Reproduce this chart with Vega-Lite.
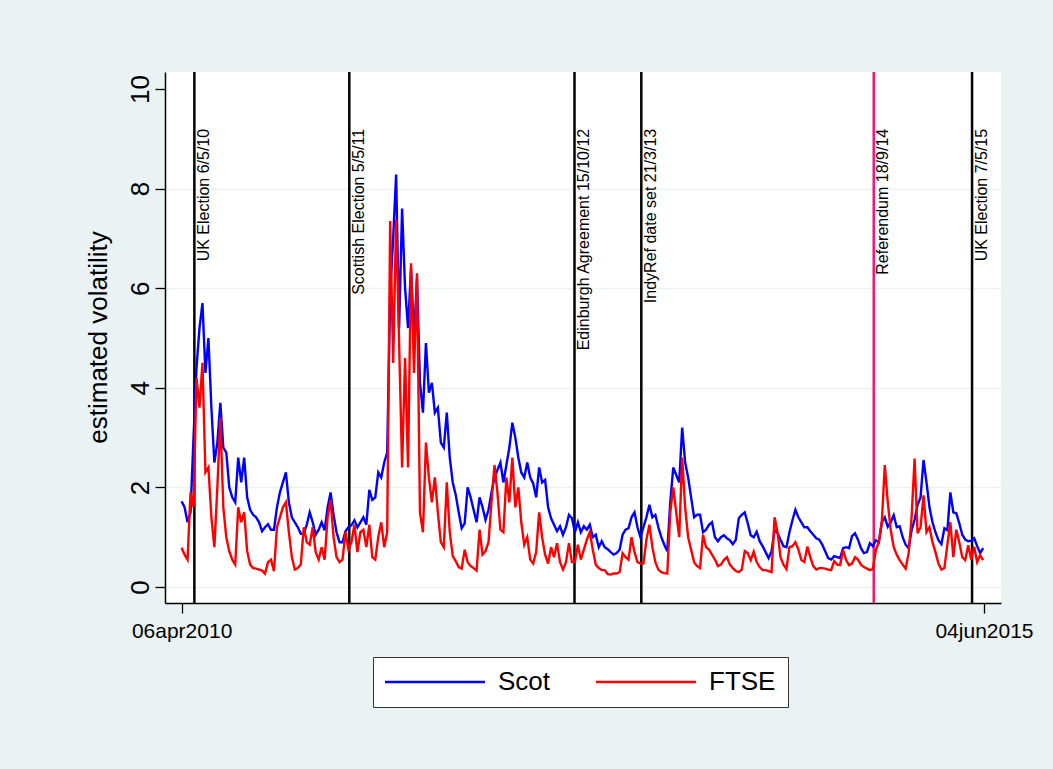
{
  "$schema": "https://vega.github.io/schema/vega-lite/v6.json",
  "width": 836,
  "height": 531,
  "autosize": {"type": "none"},
  "padding": {"left": 165, "top": 72, "right": 52, "bottom": 166},
  "background": "#EAF2F3",
  "config": {
    "font": "Liberation Sans",
    "view": {"fill": "white", "stroke": null}
  },
  "datasets": {
    "vol": [
      {"date": "2010-04-06", "Scot": 1.72, "FTSE": 0.79},
      {"date": "2010-04-13", "Scot": 1.6, "FTSE": 0.65},
      {"date": "2010-04-20", "Scot": 1.3, "FTSE": 0.55},
      {"date": "2010-04-27", "Scot": 1.5, "FTSE": 1.9},
      {"date": "2010-05-04", "Scot": 3.0, "FTSE": 1.6},
      {"date": "2010-05-11", "Scot": 4.4, "FTSE": 4.2},
      {"date": "2010-05-18", "Scot": 5.2, "FTSE": 3.6},
      {"date": "2010-05-25", "Scot": 5.7, "FTSE": 4.5},
      {"date": "2010-06-01", "Scot": 4.3, "FTSE": 2.3},
      {"date": "2010-06-08", "Scot": 5.0, "FTSE": 2.4},
      {"date": "2010-06-15", "Scot": 3.6, "FTSE": 1.4},
      {"date": "2010-06-22", "Scot": 2.5, "FTSE": 0.8},
      {"date": "2010-06-29", "Scot": 2.9, "FTSE": 2.0},
      {"date": "2010-07-06", "Scot": 3.7, "FTSE": 3.4},
      {"date": "2010-07-13", "Scot": 2.8, "FTSE": 1.6},
      {"date": "2010-07-20", "Scot": 2.7, "FTSE": 1.0},
      {"date": "2010-07-27", "Scot": 2.0, "FTSE": 0.72},
      {"date": "2010-08-03", "Scot": 1.8, "FTSE": 0.55},
      {"date": "2010-08-10", "Scot": 1.7, "FTSE": 0.45},
      {"date": "2010-08-17", "Scot": 2.6, "FTSE": 1.6},
      {"date": "2010-08-24", "Scot": 2.1, "FTSE": 1.3},
      {"date": "2010-08-31", "Scot": 2.6, "FTSE": 1.5},
      {"date": "2010-09-07", "Scot": 1.8, "FTSE": 0.72},
      {"date": "2010-09-14", "Scot": 1.55, "FTSE": 0.45},
      {"date": "2010-09-21", "Scot": 1.45, "FTSE": 0.38},
      {"date": "2010-09-28", "Scot": 1.4, "FTSE": 0.37},
      {"date": "2010-10-05", "Scot": 1.3, "FTSE": 0.35},
      {"date": "2010-10-12", "Scot": 1.12, "FTSE": 0.33},
      {"date": "2010-10-19", "Scot": 1.2, "FTSE": 0.27},
      {"date": "2010-10-26", "Scot": 1.26, "FTSE": 0.5},
      {"date": "2010-11-02", "Scot": 1.15, "FTSE": 0.55},
      {"date": "2010-11-09", "Scot": 1.15, "FTSE": 0.32},
      {"date": "2010-11-16", "Scot": 1.6, "FTSE": 1.2},
      {"date": "2010-11-23", "Scot": 1.9, "FTSE": 1.4},
      {"date": "2010-11-30", "Scot": 2.1, "FTSE": 1.6},
      {"date": "2010-12-07", "Scot": 2.3, "FTSE": 1.7},
      {"date": "2010-12-14", "Scot": 1.7, "FTSE": 1.1},
      {"date": "2010-12-21", "Scot": 1.4, "FTSE": 0.6},
      {"date": "2010-12-28", "Scot": 1.3, "FTSE": 0.35},
      {"date": "2011-01-04", "Scot": 1.2, "FTSE": 0.38},
      {"date": "2011-01-11", "Scot": 1.07, "FTSE": 0.45},
      {"date": "2011-01-18", "Scot": 1.07, "FTSE": 1.2},
      {"date": "2011-01-25", "Scot": 1.25, "FTSE": 0.9},
      {"date": "2011-02-01", "Scot": 1.5, "FTSE": 0.85},
      {"date": "2011-02-08", "Scot": 1.3, "FTSE": 1.2},
      {"date": "2011-02-15", "Scot": 1.05, "FTSE": 0.7},
      {"date": "2011-02-22", "Scot": 1.15, "FTSE": 0.55},
      {"date": "2011-03-01", "Scot": 1.3, "FTSE": 0.8},
      {"date": "2011-03-08", "Scot": 1.14, "FTSE": 0.55},
      {"date": "2011-03-15", "Scot": 1.6, "FTSE": 1.4},
      {"date": "2011-03-22", "Scot": 1.9, "FTSE": 1.75},
      {"date": "2011-03-29", "Scot": 1.45, "FTSE": 1.0},
      {"date": "2011-04-05", "Scot": 1.1, "FTSE": 0.6},
      {"date": "2011-04-12", "Scot": 0.9, "FTSE": 0.5},
      {"date": "2011-04-19", "Scot": 0.9, "FTSE": 0.55},
      {"date": "2011-04-26", "Scot": 1.12, "FTSE": 1.1},
      {"date": "2011-05-03", "Scot": 1.2, "FTSE": 0.75},
      {"date": "2011-05-10", "Scot": 1.24, "FTSE": 0.9},
      {"date": "2011-05-17", "Scot": 1.34, "FTSE": 1.25},
      {"date": "2011-05-24", "Scot": 1.2, "FTSE": 0.7},
      {"date": "2011-05-31", "Scot": 1.3, "FTSE": 1.1},
      {"date": "2011-06-07", "Scot": 1.4, "FTSE": 1.15},
      {"date": "2011-06-14", "Scot": 1.25, "FTSE": 0.8},
      {"date": "2011-06-21", "Scot": 1.95, "FTSE": 1.25},
      {"date": "2011-06-28", "Scot": 1.75, "FTSE": 0.6},
      {"date": "2011-07-05", "Scot": 1.8, "FTSE": 0.55},
      {"date": "2011-07-12", "Scot": 2.3, "FTSE": 1.0},
      {"date": "2011-07-19", "Scot": 2.2, "FTSE": 1.3},
      {"date": "2011-07-26", "Scot": 2.5, "FTSE": 0.8},
      {"date": "2011-08-02", "Scot": 2.7, "FTSE": 1.1},
      {"date": "2011-08-09", "Scot": 5.9, "FTSE": 7.35},
      {"date": "2011-08-16", "Scot": 7.0, "FTSE": 4.5},
      {"date": "2011-08-23", "Scot": 8.28, "FTSE": 7.38},
      {"date": "2011-08-30", "Scot": 5.2, "FTSE": 4.9},
      {"date": "2011-09-06", "Scot": 7.6, "FTSE": 2.4},
      {"date": "2011-09-13", "Scot": 6.0, "FTSE": 4.6},
      {"date": "2011-09-20", "Scot": 5.2, "FTSE": 2.4},
      {"date": "2011-09-27", "Scot": 6.4, "FTSE": 6.5},
      {"date": "2011-10-04", "Scot": 5.0, "FTSE": 4.3},
      {"date": "2011-10-11", "Scot": 6.2, "FTSE": 6.3},
      {"date": "2011-10-18", "Scot": 4.1, "FTSE": 1.5},
      {"date": "2011-10-25", "Scot": 3.5, "FTSE": 1.1},
      {"date": "2011-11-01", "Scot": 4.9, "FTSE": 2.9},
      {"date": "2011-11-08", "Scot": 3.9, "FTSE": 2.2},
      {"date": "2011-11-15", "Scot": 4.1, "FTSE": 1.7},
      {"date": "2011-11-22", "Scot": 3.5, "FTSE": 2.2},
      {"date": "2011-11-29", "Scot": 3.6, "FTSE": 1.5},
      {"date": "2011-12-06", "Scot": 2.9, "FTSE": 0.9},
      {"date": "2011-12-13", "Scot": 2.8, "FTSE": 0.8},
      {"date": "2011-12-20", "Scot": 3.5, "FTSE": 2.1},
      {"date": "2011-12-27", "Scot": 2.6, "FTSE": 1.1},
      {"date": "2012-01-03", "Scot": 2.1, "FTSE": 0.62},
      {"date": "2012-01-10", "Scot": 1.85, "FTSE": 0.52},
      {"date": "2012-01-17", "Scot": 1.5, "FTSE": 0.4},
      {"date": "2012-01-24", "Scot": 1.18, "FTSE": 0.37},
      {"date": "2012-01-31", "Scot": 1.28, "FTSE": 0.75},
      {"date": "2012-02-07", "Scot": 2.0, "FTSE": 0.5},
      {"date": "2012-02-14", "Scot": 1.8, "FTSE": 0.42},
      {"date": "2012-02-21", "Scot": 1.55, "FTSE": 0.38},
      {"date": "2012-02-28", "Scot": 1.3, "FTSE": 0.33},
      {"date": "2012-03-06", "Scot": 1.8, "FTSE": 1.15},
      {"date": "2012-03-13", "Scot": 1.6, "FTSE": 0.65},
      {"date": "2012-03-20", "Scot": 1.35, "FTSE": 0.72},
      {"date": "2012-03-27", "Scot": 1.55, "FTSE": 0.9},
      {"date": "2012-04-03", "Scot": 1.9, "FTSE": 1.7},
      {"date": "2012-04-10", "Scot": 2.2, "FTSE": 2.45},
      {"date": "2012-04-17", "Scot": 2.35, "FTSE": 1.9},
      {"date": "2012-04-24", "Scot": 2.5, "FTSE": 1.15},
      {"date": "2012-05-01", "Scot": 2.1, "FTSE": 1.1},
      {"date": "2012-05-08", "Scot": 2.45, "FTSE": 2.2},
      {"date": "2012-05-15", "Scot": 2.8, "FTSE": 1.7},
      {"date": "2012-05-22", "Scot": 3.3, "FTSE": 2.6},
      {"date": "2012-05-29", "Scot": 3.0, "FTSE": 1.6},
      {"date": "2012-06-05", "Scot": 2.6, "FTSE": 2.0},
      {"date": "2012-06-12", "Scot": 2.3, "FTSE": 1.3},
      {"date": "2012-06-19", "Scot": 2.2, "FTSE": 0.85},
      {"date": "2012-06-26", "Scot": 2.5, "FTSE": 1.0},
      {"date": "2012-07-03", "Scot": 2.2, "FTSE": 0.55},
      {"date": "2012-07-10", "Scot": 2.08, "FTSE": 0.47},
      {"date": "2012-07-17", "Scot": 1.8, "FTSE": 0.7},
      {"date": "2012-07-24", "Scot": 2.4, "FTSE": 1.5},
      {"date": "2012-07-31", "Scot": 2.1, "FTSE": 1.0},
      {"date": "2012-08-07", "Scot": 2.15, "FTSE": 0.65},
      {"date": "2012-08-14", "Scot": 1.6, "FTSE": 0.47},
      {"date": "2012-08-21", "Scot": 1.38, "FTSE": 0.8},
      {"date": "2012-08-28", "Scot": 1.25, "FTSE": 0.6},
      {"date": "2012-09-04", "Scot": 1.12, "FTSE": 0.88},
      {"date": "2012-09-11", "Scot": 1.22, "FTSE": 0.5},
      {"date": "2012-09-18", "Scot": 1.05, "FTSE": 0.35},
      {"date": "2012-09-25", "Scot": 1.2, "FTSE": 0.5},
      {"date": "2012-10-02", "Scot": 1.45, "FTSE": 0.88},
      {"date": "2012-10-09", "Scot": 1.38, "FTSE": 0.5},
      {"date": "2012-10-16", "Scot": 1.1, "FTSE": 0.5},
      {"date": "2012-10-23", "Scot": 1.3, "FTSE": 0.85},
      {"date": "2012-10-30", "Scot": 1.1, "FTSE": 0.55},
      {"date": "2012-11-06", "Scot": 1.22, "FTSE": 0.75},
      {"date": "2012-11-13", "Scot": 1.15, "FTSE": 0.95},
      {"date": "2012-11-20", "Scot": 1.25, "FTSE": 1.1},
      {"date": "2012-11-27", "Scot": 1.0, "FTSE": 0.75},
      {"date": "2012-12-04", "Scot": 1.05, "FTSE": 0.45},
      {"date": "2012-12-11", "Scot": 0.8, "FTSE": 0.38},
      {"date": "2012-12-18", "Scot": 0.92, "FTSE": 0.34},
      {"date": "2012-12-25", "Scot": 0.8, "FTSE": 0.34},
      {"date": "2013-01-01", "Scot": 0.76, "FTSE": 0.26},
      {"date": "2013-01-08", "Scot": 0.7, "FTSE": 0.25},
      {"date": "2013-01-15", "Scot": 0.65, "FTSE": 0.27},
      {"date": "2013-01-22", "Scot": 0.68, "FTSE": 0.27},
      {"date": "2013-01-29", "Scot": 0.75, "FTSE": 0.3},
      {"date": "2013-02-05", "Scot": 1.05, "FTSE": 0.68},
      {"date": "2013-02-12", "Scot": 1.15, "FTSE": 0.6},
      {"date": "2013-02-19", "Scot": 1.18, "FTSE": 0.55},
      {"date": "2013-02-26", "Scot": 1.4, "FTSE": 1.0},
      {"date": "2013-03-05", "Scot": 1.5, "FTSE": 0.7},
      {"date": "2013-03-12", "Scot": 1.2, "FTSE": 0.5},
      {"date": "2013-03-19", "Scot": 1.0, "FTSE": 0.47},
      {"date": "2013-03-26", "Scot": 1.2, "FTSE": 0.47},
      {"date": "2013-04-02", "Scot": 1.4, "FTSE": 0.95},
      {"date": "2013-04-09", "Scot": 1.65, "FTSE": 1.25},
      {"date": "2013-04-16", "Scot": 1.4, "FTSE": 0.8},
      {"date": "2013-04-23", "Scot": 1.45, "FTSE": 0.5},
      {"date": "2013-04-30", "Scot": 1.2, "FTSE": 0.35},
      {"date": "2013-05-07", "Scot": 1.0, "FTSE": 0.3},
      {"date": "2013-05-14", "Scot": 0.85, "FTSE": 0.28},
      {"date": "2013-05-21", "Scot": 0.72, "FTSE": 0.27},
      {"date": "2013-05-28", "Scot": 1.7, "FTSE": 1.5},
      {"date": "2013-06-04", "Scot": 2.4, "FTSE": 2.0},
      {"date": "2013-06-11", "Scot": 2.25, "FTSE": 1.5},
      {"date": "2013-06-18", "Scot": 2.1, "FTSE": 1.0},
      {"date": "2013-06-25", "Scot": 3.2, "FTSE": 2.6},
      {"date": "2013-07-02", "Scot": 2.5, "FTSE": 1.6},
      {"date": "2013-07-09", "Scot": 2.2, "FTSE": 1.0},
      {"date": "2013-07-16", "Scot": 1.8, "FTSE": 0.75},
      {"date": "2013-07-23", "Scot": 1.4, "FTSE": 0.5},
      {"date": "2013-07-30", "Scot": 1.45, "FTSE": 0.42},
      {"date": "2013-08-06", "Scot": 1.45, "FTSE": 0.38},
      {"date": "2013-08-13", "Scot": 1.1, "FTSE": 1.05},
      {"date": "2013-08-20", "Scot": 1.15, "FTSE": 0.8},
      {"date": "2013-08-27", "Scot": 1.25, "FTSE": 0.75},
      {"date": "2013-09-03", "Scot": 1.3, "FTSE": 0.65},
      {"date": "2013-09-10", "Scot": 1.0, "FTSE": 0.55},
      {"date": "2013-09-17", "Scot": 0.92, "FTSE": 0.42},
      {"date": "2013-09-24", "Scot": 1.0, "FTSE": 0.45},
      {"date": "2013-10-01", "Scot": 1.04, "FTSE": 0.54},
      {"date": "2013-10-08", "Scot": 0.98, "FTSE": 0.6},
      {"date": "2013-10-15", "Scot": 0.94, "FTSE": 0.45},
      {"date": "2013-10-22", "Scot": 0.86, "FTSE": 0.38},
      {"date": "2013-10-29", "Scot": 0.95, "FTSE": 0.32},
      {"date": "2013-11-05", "Scot": 1.38, "FTSE": 0.3},
      {"date": "2013-11-12", "Scot": 1.45, "FTSE": 0.35},
      {"date": "2013-11-19", "Scot": 1.5, "FTSE": 0.72},
      {"date": "2013-11-26", "Scot": 1.28, "FTSE": 0.68},
      {"date": "2013-12-03", "Scot": 1.04, "FTSE": 0.54},
      {"date": "2013-12-10", "Scot": 1.0, "FTSE": 0.71},
      {"date": "2013-12-17", "Scot": 1.11, "FTSE": 0.5},
      {"date": "2013-12-24", "Scot": 0.92, "FTSE": 0.4},
      {"date": "2013-12-31", "Scot": 0.82, "FTSE": 0.34},
      {"date": "2014-01-07", "Scot": 0.7, "FTSE": 0.34},
      {"date": "2014-01-14", "Scot": 0.58, "FTSE": 0.32},
      {"date": "2014-01-21", "Scot": 0.72, "FTSE": 0.3},
      {"date": "2014-01-28", "Scot": 1.15, "FTSE": 1.4},
      {"date": "2014-02-04", "Scot": 1.08, "FTSE": 1.1},
      {"date": "2014-02-11", "Scot": 0.95, "FTSE": 0.6},
      {"date": "2014-02-18", "Scot": 0.82, "FTSE": 0.45},
      {"date": "2014-02-25", "Scot": 0.8, "FTSE": 0.36},
      {"date": "2014-03-04", "Scot": 1.1, "FTSE": 0.8},
      {"date": "2014-03-11", "Scot": 1.34, "FTSE": 0.82},
      {"date": "2014-03-18", "Scot": 1.55, "FTSE": 0.9},
      {"date": "2014-03-25", "Scot": 1.4, "FTSE": 0.75},
      {"date": "2014-04-01", "Scot": 1.3, "FTSE": 0.54},
      {"date": "2014-04-08", "Scot": 1.2, "FTSE": 0.5},
      {"date": "2014-04-15", "Scot": 1.2, "FTSE": 0.81},
      {"date": "2014-04-22", "Scot": 1.12, "FTSE": 0.6},
      {"date": "2014-04-29", "Scot": 1.05, "FTSE": 0.42},
      {"date": "2014-05-06", "Scot": 0.98, "FTSE": 0.35},
      {"date": "2014-05-13", "Scot": 0.95, "FTSE": 0.38},
      {"date": "2014-05-20", "Scot": 0.85, "FTSE": 0.38},
      {"date": "2014-05-27", "Scot": 0.72, "FTSE": 0.37},
      {"date": "2014-06-03", "Scot": 0.58, "FTSE": 0.35},
      {"date": "2014-06-10", "Scot": 0.55, "FTSE": 0.34},
      {"date": "2014-06-17", "Scot": 0.62, "FTSE": 0.52},
      {"date": "2014-06-24", "Scot": 0.6, "FTSE": 0.45},
      {"date": "2014-07-01", "Scot": 0.58, "FTSE": 0.44},
      {"date": "2014-07-08", "Scot": 0.78, "FTSE": 0.74},
      {"date": "2014-07-15", "Scot": 0.8, "FTSE": 0.54},
      {"date": "2014-07-22", "Scot": 0.78, "FTSE": 0.44},
      {"date": "2014-07-29", "Scot": 1.02, "FTSE": 0.47},
      {"date": "2014-08-05", "Scot": 1.08, "FTSE": 0.6},
      {"date": "2014-08-12", "Scot": 0.95, "FTSE": 0.55},
      {"date": "2014-08-19", "Scot": 0.78, "FTSE": 0.45},
      {"date": "2014-08-26", "Scot": 0.68, "FTSE": 0.4},
      {"date": "2014-09-02", "Scot": 0.7, "FTSE": 0.37},
      {"date": "2014-09-09", "Scot": 0.88, "FTSE": 0.34},
      {"date": "2014-09-16", "Scot": 0.82, "FTSE": 0.36},
      {"date": "2014-09-23", "Scot": 0.94, "FTSE": 0.74},
      {"date": "2014-09-30", "Scot": 0.9, "FTSE": 0.9},
      {"date": "2014-10-07", "Scot": 1.3, "FTSE": 1.3},
      {"date": "2014-10-14", "Scot": 1.4, "FTSE": 2.45},
      {"date": "2014-10-21", "Scot": 1.21, "FTSE": 1.7},
      {"date": "2014-10-28", "Scot": 1.3, "FTSE": 1.14},
      {"date": "2014-11-04", "Scot": 1.44, "FTSE": 0.8},
      {"date": "2014-11-11", "Scot": 1.2, "FTSE": 0.65},
      {"date": "2014-11-18", "Scot": 1.22, "FTSE": 0.54},
      {"date": "2014-11-25", "Scot": 1.0, "FTSE": 0.45},
      {"date": "2014-12-02", "Scot": 0.85, "FTSE": 0.37},
      {"date": "2014-12-09", "Scot": 0.78, "FTSE": 0.68},
      {"date": "2014-12-16", "Scot": 1.14, "FTSE": 1.4},
      {"date": "2014-12-23", "Scot": 1.35, "FTSE": 2.58},
      {"date": "2014-12-30", "Scot": 1.65, "FTSE": 1.08},
      {"date": "2015-01-06", "Scot": 1.8, "FTSE": 1.2},
      {"date": "2015-01-13", "Scot": 2.55, "FTSE": 1.84},
      {"date": "2015-01-20", "Scot": 2.1, "FTSE": 1.1},
      {"date": "2015-01-27", "Scot": 1.6, "FTSE": 1.2},
      {"date": "2015-02-03", "Scot": 1.3, "FTSE": 0.9},
      {"date": "2015-02-10", "Scot": 1.1, "FTSE": 0.7},
      {"date": "2015-02-17", "Scot": 0.94, "FTSE": 0.47},
      {"date": "2015-02-24", "Scot": 0.86, "FTSE": 0.35},
      {"date": "2015-03-03", "Scot": 1.18, "FTSE": 0.38},
      {"date": "2015-03-10", "Scot": 1.14, "FTSE": 0.85},
      {"date": "2015-03-17", "Scot": 1.9, "FTSE": 1.3},
      {"date": "2015-03-24", "Scot": 1.5, "FTSE": 0.6},
      {"date": "2015-03-31", "Scot": 1.48, "FTSE": 1.15},
      {"date": "2015-04-07", "Scot": 1.28, "FTSE": 0.9},
      {"date": "2015-04-14", "Scot": 1.05, "FTSE": 0.6},
      {"date": "2015-04-21", "Scot": 0.95, "FTSE": 0.54},
      {"date": "2015-04-28", "Scot": 0.92, "FTSE": 0.84},
      {"date": "2015-05-05", "Scot": 0.93, "FTSE": 0.55},
      {"date": "2015-05-12", "Scot": 0.98, "FTSE": 0.81},
      {"date": "2015-05-19", "Scot": 0.82, "FTSE": 0.5},
      {"date": "2015-05-26", "Scot": 0.68, "FTSE": 0.64},
      {"date": "2015-06-02", "Scot": 0.78, "FTSE": 0.54}
    ],
    "events": [
      {"date": "2010-05-06", "label": "UK Election 6/5/10"},
      {"date": "2011-05-05", "label": "Scottish Election 5/5/11"},
      {"date": "2012-10-15", "label": "Edinburgh Agreement 15/10/12"},
      {"date": "2013-03-21", "label": "IndyRef date set 21/3/13"},
      {"date": "2014-09-18", "label": "Referendum 18/9/14"},
      {"date": "2015-05-07", "label": "UK Election 7/5/15"}
    ]
  },
  "layer": [
    {
      "data": {"name": "events"},
      "mark": {"type": "rule", "strokeWidth": 2.5},
      "encoding": {
        "x": {"field": "date", "type": "temporal"},
        "color": {
          "condition": {"test": "datum.label === 'Referendum 18/9/14'", "value": "#F0177A"},
          "value": "black"
        }
      }
    },
    {
      "data": {"name": "vol"},
      "transform": [{"fold": ["Scot", "FTSE"], "as": ["series", "volatility"]}],
      "mark": {"type": "line", "strokeWidth": 2.4},
      "encoding": {
        "x": {
          "field": "date",
          "type": "temporal",
          "scale": {
            "type": "utc",
            "domain": [
              {"year": 2010, "month": 2, "date": 26, "utc": true},
              {"year": 2015, "month": 7, "date": 14, "utc": true}
            ]
          },
          "axis": {
            "title": null,
            "values": [
              {"year": 2010, "month": 4, "date": 6, "utc": true},
              {"year": 2015, "month": 6, "date": 4, "utc": true}
            ],
            "labelExpr": "lower(utcFormat(datum.value, '%d%b%Y'))",
            "labelFontSize": 21,
            "labelColor": "black",
            "labelFlush": false,
            "labelPadding": 7,
            "tickSize": 10,
            "tickColor": "black",
            "tickWidth": 1.3,
            "domainColor": "black",
            "domainWidth": 1.5,
            "grid": false
          }
        },
        "y": {
          "field": "volatility",
          "type": "quantitative",
          "scale": {"domain": [-0.321, 10.341], "nice": false, "zero": false},
          "axis": {
            "title": "estimated volatility",
            "values": [0, 2, 4, 6, 8, 10],
            "labelAngle": 270,
            "labelAlign": "center",
            "labelBaseline": "alphabetic",
            "labelFontSize": 26,
            "labelColor": "black",
            "labelPadding": 7,
            "tickSize": 10,
            "tickColor": "black",
            "tickWidth": 1.3,
            "domainColor": "black",
            "domainWidth": 1.5,
            "grid": true,
            "gridColor": "#EAF2F3",
            "gridWidth": 1.5,
            "gridOpacity": {"condition": {"test": "datum.value === 10", "value": 0}, "value": 1},
            "titleFontSize": 26,
            "titleFontWeight": "normal",
            "titleColor": "black",
            "titleAngle": 270,
            "titleAlign": "center",
            "titleBaseline": "alphabetic",
            "titleX": -59,
            "titleY": 265
          }
        },
        "color": {
          "field": "series",
          "type": "nominal",
          "scale": {"domain": ["Scot", "FTSE"], "range": ["#0000FF", "#FF0000"]},
          "legend": {
            "title": null,
            "orient": "none",
            "legendX": 208,
            "legendY": 585,
            "direction": "horizontal",
            "columns": 2,
            "symbolType": "M-5,0H5",
            "symbolSize": 400,
            "symbolStrokeWidth": 2.5,
            "symbolOffset": 37,
            "labelFontSize": 26,
            "labelColor": "black",
            "labelOffset": 50,
            "columnPadding": 40,
            "padding": 12,
            "strokeColor": "#333333",
            "fillColor": "white"
          }
        }
      }
    },
    {
      "data": {"name": "events"},
      "mark": {"type": "text", "angle": 270, "align": "right", "baseline": "top", "dy": 1.5, "fontSize": 16, "color": "black"},
      "encoding": {
        "x": {"field": "date", "type": "temporal"},
        "y": {"datum": 9.2},
        "text": {"field": "label"}
      }
    }
  ]
}
